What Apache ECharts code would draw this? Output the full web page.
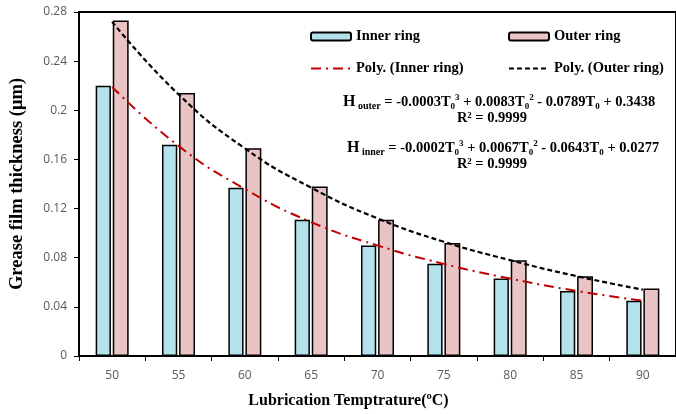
<!doctype html>
<html>
<head>
<meta charset="utf-8">
<title>Grease film thickness</title>
<script type="text/javascript" src="https://cdn.jsdelivr.net/npm/echarts@6/dist/echarts.min.js"></script>
</head>
<body style="margin:0;padding:0;background:#fff">
<div id="tb" style="width:676px;height:414px;"></div>
<script>
// data
var temps = ['50', '55', '60', '65', '70', '75', '80', '85', '90'];
var innerRing = [0.220, 0.172, 0.137, 0.111, 0.090, 0.075, 0.063, 0.053, 0.045];
var outerRing = [0.273, 0.214, 0.169, 0.138, 0.111, 0.092, 0.078, 0.065, 0.055];
// polynomial trend curves, read at each category
var polyInner = [0.219, 0.171, 0.136, 0.109, 0.090, 0.075, 0.063, 0.053, 0.045];
var polyOuter = [0.272, 0.213, 0.169, 0.137, 0.112, 0.093, 0.078, 0.065, 0.054];
var yTicks = [0, 0.04, 0.08, 0.12, 0.16, 0.2, 0.24, 0.28];

var serif = '"Liberation Serif", "Times New Roman", serif';
var bt = document.getElementById('tb');
var chart = echarts.init(bt);

var eqRich = {
    h: { fontFamily: serif, fontWeight: 'bold', fontSize: 16, color: '#000', lineHeight: 18 },
    s: { fontFamily: serif, fontWeight: 'bold', fontSize: 10, color: '#000', lineHeight: 18, verticalAlign: 'bottom' },
    sub: { fontFamily: serif, fontWeight: 'bold', fontSize: 9, color: '#000', lineHeight: 18, verticalAlign: 'bottom' },
    sup: { fontFamily: serif, fontWeight: 'bold', fontSize: 9, color: '#000', lineHeight: 18, verticalAlign: 'top' }
};

function legendAt(item, left, top) {
    return {
        data: [item], left: left, top: top, itemWidth: 40, itemHeight: 8,
        itemGap: 2,
        textStyle: { fontFamily: serif, fontWeight: 'bold', fontSize: 14.5, color: '#000' }
    };
}

chart.setOption({
    animation: false,
    legend: [
        legendAt('Inner ring', 305, 24),
        legendAt('Outer ring', 503, 24),
        legendAt({ name: 'Poly. (Inner ring)', itemStyle: { opacity: 0 } }, 305, 56),
        legendAt({ name: 'Poly. (Outer ring)', itemStyle: { opacity: 0 } }, 503, 56)
    ],
    grid: {
        left: 78, right: -8, top: 12, bottom: 56,
        show: true, borderColor: '#000', borderWidth: 2
    },
    xAxis: {
        type: 'category',
        data: temps,
        name: 'Lubrication Temptrature(\u00BAC)',
        nameLocation: 'middle',
        nameGap: 37,
        nameTextStyle: { fontFamily: serif, fontWeight: 'bold', fontSize: 16, color: '#000', padding: [0, 58, 0, 0] },
        axisLine: { lineStyle: { color: '#000', width: 2 } },
        axisTick: { show: true, length: 5, lineStyle: { color: '#000', width: 1 } },
        axisLabel: { margin: 14, fontFamily: '"Open Sans", sans-serif', fontSize: 12, color: '#595959' },
        splitLine: { show: false }
    },
    yAxis: {
        type: 'value',
        min: 0, max: 0.28, interval: 0.04,
        name: 'Grease film thickness (\u03BCm)',
        nameLocation: 'middle',
        nameGap: 52,
        nameTextStyle: { fontFamily: serif, fontWeight: 'bold', fontSize: 18.5, color: '#000' },
        axisLine: { show: true, lineStyle: { color: '#000', width: 2 } },
        axisTick: { show: true, length: 5, lineStyle: { color: '#000', width: 1 } },
        axisLabel: {
            margin: 12, fontFamily: '"Open Sans", sans-serif', fontSize: 12, color: '#595959',
            formatter: function (v) {
                for (var i = 0; i < yTicks.length; i++) {
                    if (Math.abs(yTicks[i] - v) < 1e-9) return String(yTicks[i]);
                }
                return '';
            }
        },
        splitLine: { show: false }
    },
    series: [
        {
            name: 'Inner ring', type: 'bar', data: innerRing,
            barWidth: '23%', barGap: '12%',
            itemStyle: { color: '#b3e2ea', borderColor: '#000', borderWidth: 1.5 }
        },
        {
            name: 'Outer ring', type: 'bar', data: outerRing,
            barWidth: '24%', barGap: '12%',
            itemStyle: { color: '#eac4c4', borderColor: '#000', borderWidth: 1.5 }
        },
        {
            name: 'Poly. (Inner ring)', type: 'line', data: polyInner,
            smooth: true, symbol: 'none', z: 5,
            lineStyle: { color: '#c00000', width: 2, type: [10, 5, 2, 5] },
            itemStyle: { color: '#c00000' }
        },
        {
            name: 'Poly. (Outer ring)', type: 'line', data: polyOuter,
            smooth: true, symbol: 'none', z: 5,
            lineStyle: { color: '#000', width: 2.2, type: [5, 3] },
            itemStyle: { color: '#000' }
        }
    ],
    graphic: [
        {
            type: 'text', left: 343, top: 93,
            style: {
                text: '{h|H}{s| outer} = -0.0003T{sub|0}{sup|3} + 0.0083T{sub|0}{sup|2} - 0.0789T{sub|0} + 0.3438',
                fontFamily: serif, fontWeight: 'bold', fontSize: 14.5, fill: '#000', rich: eqRich
            }
        },
        {
            type: 'text', x: 492, y: 111,
            style: { text: 'R\u00B2 = 0.9999', align: 'center', fontFamily: serif, fontWeight: 'bold', fontSize: 14.5, fill: '#000' }
        },
        {
            type: 'text', left: 347, top: 139,
            style: {
                text: '{h|H}{s| inner} = -0.0002T{sub|0}{sup|3} + 0.0067T{sub|0}{sup|2} - 0.0643T{sub|0} + 0.0277',
                fontFamily: serif, fontWeight: 'bold', fontSize: 14.5, fill: '#000', rich: eqRich
            }
        },
        {
            type: 'text', x: 492, y: 157,
            style: { text: 'R\u00B2 = 0.9999', align: 'center', fontFamily: serif, fontWeight: 'bold', fontSize: 14.5, fill: '#000' }
        }
    ]
});
</script>
</body>
</html>
